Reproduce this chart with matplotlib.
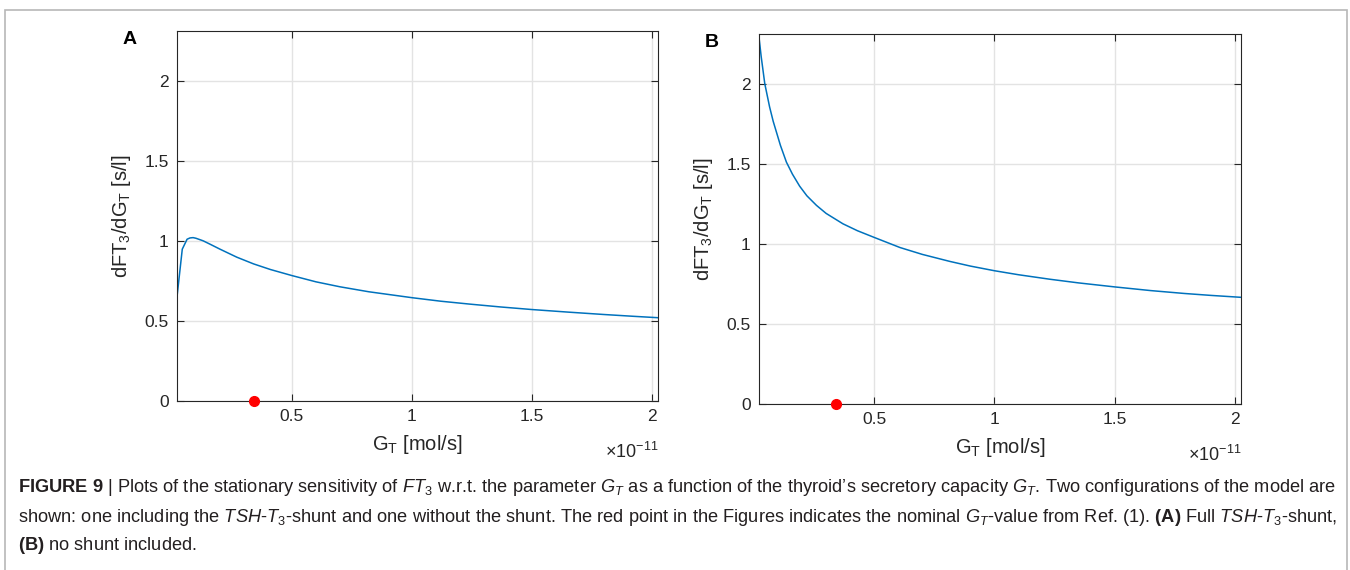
import matplotlib
matplotlib.use('Agg')
import matplotlib.pyplot as plt
from matplotlib.patches import Rectangle

plt.rcParams['font.family'] = ['Liberation Sans', 'DejaVu Sans']
plt.rcParams['mathtext.fontset'] = 'custom'
plt.rcParams['mathtext.rm'] = 'Liberation Sans'
plt.rcParams['mathtext.it'] = 'Liberation Sans:italic'
plt.rcParams['mathtext.bf'] = 'Liberation Sans:bold'

# * data (x in units of 1e-11 mol/s)
x_a = [0.021, 0.043, 0.063, 0.075, 0.088, 0.1, 0.13, 0.16, 0.2, 0.27, 0.34,
       0.41, 0.5, 0.6, 0.7, 0.82, 1.0, 1.12, 1.24, 1.37, 1.5, 1.65, 1.8,
       1.92, 2.025]
y_a = [0.65, 0.948, 1.01, 1.018, 1.02, 1.016, 1.0, 0.978, 0.948, 0.898,
       0.856, 0.821, 0.783, 0.744, 0.713, 0.682, 0.645, 0.623, 0.605, 0.587,
       0.571, 0.555, 0.54, 0.529, 0.52]

x_b = [0.021, 0.03, 0.045, 0.065, 0.08, 0.093, 0.11, 0.135, 0.16, 0.19,
       0.22, 0.26, 0.3, 0.37, 0.43, 0.5, 0.607, 0.7, 0.815, 0.9, 1.0, 1.1,
       1.23, 1.35, 1.5, 1.65, 1.79, 1.9, 2.025]
y_b = [2.29, 2.17, 2.0, 1.855, 1.765, 1.70, 1.615, 1.51, 1.435, 1.36, 1.3,
       1.24, 1.19, 1.125, 1.082, 1.04, 0.977, 0.934, 0.89, 0.861, 0.832,
       0.807, 0.779, 0.756, 0.731, 0.708, 0.69, 0.678, 0.666]

g_nominal = 0.34  # red point
x_ticks = [0.5, 1, 1.5, 2]
x_ticklabels = ['0.5', '1', '1.5', '2']
y_ticks = [0, 0.5, 1, 1.5, 2]
y_ticklabels = ['0', '0.5', '1', '1.5', '2']
panels = ['A', 'B']

W, H = 1350, 570
fig = plt.figure(figsize=(W / 100, H / 100), dpi=100)

# outer frame
fig.patches.append(Rectangle((5 / W, -0.1), 1342 / W, 1 - 10 / H + 0.1,
                             transform=fig.transFigure, fill=False,
                             edgecolor='#b8b8b8', linewidth=1.2))

axes_pos = [[177 / W, 1 - 401 / H, 481 / W, 370 / H],
            [759 / W, 1 - 404 / H, 482 / W, 370 / H]]
data = [(x_a, y_a), (x_b, y_b)]

for k, (pos, (xs, ys)) in enumerate(zip(axes_pos, data)):
    ax = fig.add_axes(pos)
    ax.plot(xs, ys, color='#0072BD', linewidth=1.1)
    ax.plot([g_nominal], [0], 'o', color='#ff0000', markersize=7,
            clip_on=False, zorder=5)
    ax.set_xlim(0.021, 2.025)
    ax.set_ylim(0, 2.31)
    ax.set_xticks(x_ticks)
    ax.set_xticklabels(x_ticklabels)
    ax.set_yticks(y_ticks)
    ax.set_yticklabels(y_ticklabels)
    ax.grid(True, color='#e3e3e3', linewidth=1.0)
    ax.set_axisbelow(True)
    ax.tick_params(direction='in', length=5, width=0.8, colors='#262626',
                   labelsize=12.5, top=True, right=True, pad=6)
    for sp in ax.spines.values():
        sp.set_color('#262626')
        sp.set_linewidth(0.8)
    ax.set_xlabel(r'G$_\mathrm{T}$ [mol/s]', fontsize=14.5, color='#262626',
                  labelpad=6)
    ax.set_ylabel(r'dFT$_\mathrm{3}$/dG$_\mathrm{T}$ [s/l]', fontsize=14.5,
                  color='#262626', labelpad=8)
    ax.text(1.0, -0.11, r'$\times$10$^{\mathbf{\mathrm{-11}}}$',
            transform=ax.transAxes, ha='right', va='top', fontsize=13,
            color='#262626')
    ax.text(-0.098, 1.0, panels[k], transform=ax.transAxes, ha='center',
            va='top', fontsize=14, fontweight='bold')

cap_font = ['Liberation Sans Narrow', 'Liberation Sans', 'DejaVu Sans']
cap_lines = [
    r"$\mathbf{FIGURE\ 9}$ | Plots of the stationary sensitivity of $FT_3$ "
    r"w.r.t. the parameter $G_T$ as a function of the thyroid’s secretory "
    r"capacity $G_T$. Two configurations of the model are",
    r"shown: one including the $TSH$-$T_3$-shunt and one without the shunt. "
    r"The red point in the Figures indicates the nominal $G_T$-value from "
    r"Ref. (1). $\mathbf{(A)}$ Full $TSH$-$T_3$-shunt,",
    r"$\mathbf{(B)}$ no shunt included.",
]
cap_y = [488, 518, 546]
for line, yy in zip(cap_lines, cap_y):
    fig.text(18 / W, 1 - yy / H, line, ha='left', va='center',
             fontsize=13.15, family=cap_font, color='#231f20')

fig.savefig('out.png', dpi=100)
